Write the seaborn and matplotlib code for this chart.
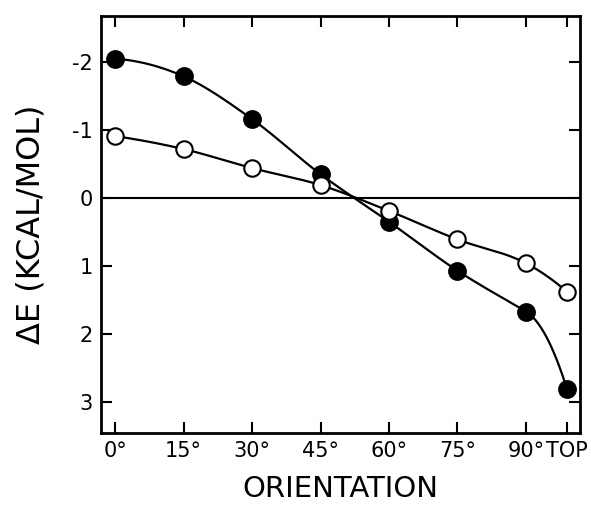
import numpy as np
import pandas as pd
import matplotlib
matplotlib.use("Agg")
import matplotlib.pyplot as plt
import seaborn as sns

# orientation (degrees); "TOP" is drawn a little past 90
orientation = [0, 15, 30, 45, 60, 75, 90, 99]
tick_labels = ["0°", "15°", "30°", "45°", "60°", "75°", "90°", "TOP"]

# energy difference, kcal/mol (axis is inverted, negative at the top)
filled_e = [-2.05, -1.79, -1.16, -0.35, 0.35, 1.07, 1.67, 2.81]
open_e = [-0.91, -0.72, -0.44, -0.19, 0.19, 0.61, 0.96, 1.38]


def smooth(x, y, n=300):
    # hermite curve through the measured points, only for the drawn line.
    # tangent = mean of neighbouring slopes, or the flatter one when they
    # differ a lot (keeps the sharp bend before TOP from wiggling)
    x = np.asarray(x, float)
    y = np.asarray(y, float)
    h = np.diff(x)
    d = np.diff(y) / h
    m = np.zeros_like(y)
    for k in range(1, len(x) - 1):
        a, b = d[k - 1], d[k]
        if a * b <= 0:
            continue
        if max(abs(a), abs(b)) / min(abs(a), abs(b)) > 3:
            m[k] = a if abs(a) < abs(b) else b
        else:
            m[k] = (a + b) / 2
    m[0] = 2 * d[0] - m[1]
    m[-1] = 2 * d[-1] - m[-2]
    xs = np.linspace(x[0], x[-1], n)
    j = np.clip(np.searchsorted(x, xs) - 1, 0, len(x) - 2)
    t = (xs - x[j]) / h[j]
    ys = (2 * t**3 - 3 * t**2 + 1) * y[j] + (t**3 - 2 * t**2 + t) * h[j] * m[j] \
        + (-2 * t**3 + 3 * t**2) * y[j + 1] + (t**3 - t**2) * h[j] * m[j + 1]
    return xs, ys


pts = pd.DataFrame({
    "orientation": orientation * 2,
    "dE": filled_e + open_e,
    "series": ["filled"] * len(orientation) + ["open"] * len(orientation),
})

sns.set_theme(style="white")
plt.rcParams["font.family"] = ["DejaVu Sans"]
plt.rcParams["text.color"] = "black"
plt.rcParams["axes.labelcolor"] = "black"
plt.rcParams["xtick.color"] = "black"
plt.rcParams["ytick.color"] = "black"

fig = plt.figure(figsize=(5.91, 5.12), dpi=100)
ax = fig.add_axes([0.171, 0.154, 0.81, 0.815])

ax.axhline(0, color="black", lw=1.5, zorder=1)

for name in ["filled", "open"]:
    sub = pts[pts["series"] == name]
    xs, ys = smooth(sub["orientation"], sub["dE"])
    curve = pd.DataFrame({"x": xs, "y": ys})
    sns.lineplot(data=curve, x="x", y="y", ax=ax, color="black", lw=1.6,
                 sort=False, estimator=None, zorder=2)

sns.scatterplot(data=pts[pts["series"] == "filled"], x="orientation", y="dE", ax=ax,
                s=150, color="black", edgecolor="black", linewidth=1.3, zorder=3)
sns.scatterplot(data=pts[pts["series"] == "open"], x="orientation", y="dE", ax=ax,
                s=140, color="white", edgecolor="black", linewidth=1.5, zorder=3)

ax.set_xlim(-3.1, 101.8)
ax.set_ylim(3.46, -2.68)

ax.set_xticks(orientation)
ax.set_xticklabels(tick_labels, fontsize=15)
ax.set_yticks([-2, -1, 0, 1, 2, 3])
ax.set_yticklabels(["-2", "-1", "0", "1", "2", "3"], fontsize=15)

ax.tick_params(direction="in", length=8, width=1.5, top=True, right=True,
               bottom=True, left=True, labeltop=False, labelright=False, pad=6)

for sp in ax.spines.values():
    sp.set_linewidth(2)
    sp.set_color("black")

ax.set_xlabel("ORIENTATION", fontsize=21, labelpad=10)
ax.set_ylabel("ΔE (KCAL/MOL)", fontsize=23, labelpad=18)

fig.savefig("out.png", dpi=100)
